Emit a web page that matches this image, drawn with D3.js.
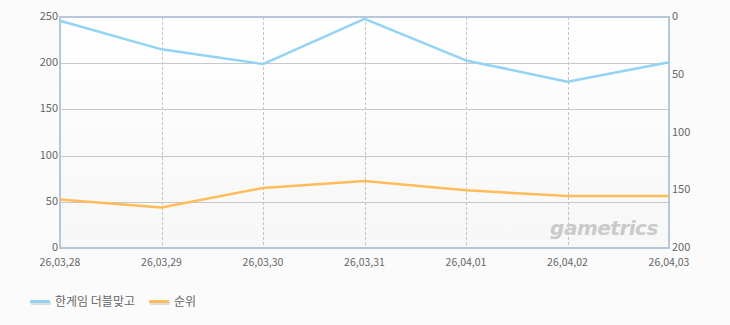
<!DOCTYPE html>
<html>
<head>
<meta charset="utf-8">
<script src="https://cdn.jsdelivr.net/npm/d3@7"></script>
<style>
  body { margin: 0; background: #fbfbfb; }
  text { font-family: "Noto Sans CJK KR", "DejaVu Sans", sans-serif; }
</style>
</head>
<body>
<div id="chart"></div>
<script>
let width = 730;
let height = 325;
let margin = { left: 60, right: 61, top: 17, bottom: 77 };

let dates = ["26,03,28", "26,03,29", "26,03,30", "26,03,31", "26,04,01", "26,04,02", "26,04,03"];
let gameValues = [246, 215, 199, 248, 203, 180, 201];
let rankValues = [158, 165, 148, 142, 150, 155, 155];
let leftTicks = [0, 50, 100, 150, 200, 250];
let rightTicks = [0, 50, 100, 150, 200];
let seriesNames = ["한게임 더블맞고", "순위"];
let colors = ["#93d3f3", "#ffbd5a"];

let svg = d3.select("#chart").append("svg")
    .attr("width", width).attr("height", height);

let x = d3.scalePoint().domain(dates).range([margin.left, width - margin.right]);
let yL = d3.scaleLinear().domain([0, 250]).range([height - margin.bottom, margin.top]);
let yR = d3.scaleLinear().domain([0, 200]).range([margin.top, height - margin.bottom]);

let defs = svg.append("defs");
let grad = defs.append("linearGradient").attr("id", "bg").attr("x1", 0).attr("y1", 0).attr("x2", 0).attr("y2", 1);
grad.append("stop").attr("offset", "0%").attr("stop-color", "#ffffff");
grad.append("stop").attr("offset", "100%").attr("stop-color", "#f7f7f7");

// plot background
svg.append("rect")
    .attr("x", margin.left).attr("y", margin.top)
    .attr("width", width - margin.left - margin.right)
    .attr("height", height - margin.top - margin.bottom)
    .attr("fill", "url(#bg)");

// horizontal grid
svg.append("g").selectAll("line").data(leftTicks.slice(1, -1)).join("line")
    .attr("x1", margin.left).attr("x2", width - margin.right)
    .attr("y1", d => Math.round(yL(d)) + 0.5).attr("y2", d => Math.round(yL(d)) + 0.5)
    .attr("stroke", "#c8c8c8");

// vertical dashed grid
svg.append("g").selectAll("line").data(dates.slice(1, -1)).join("line")
    .attr("x1", d => Math.round(x(d)) + 0.5).attr("x2", d => Math.round(x(d)) + 0.5)
    .attr("y1", margin.top).attr("y2", height - margin.bottom)
    .attr("stroke", "#c4c4c4").attr("stroke-dasharray", "3,2");

// watermark
svg.append("text")
    .attr("x", 604).attr("y", 235)
    .attr("text-anchor", "middle")
    .attr("font-size", 20).attr("font-weight", "bold").attr("font-style", "italic")
    .attr("fill", "#cacaca").attr("letter-spacing", -0.5)
    .style("font-family", "'DejaVu Sans', sans-serif")
    .text("gametrics");

// frame
svg.append("rect")
    .attr("x", margin.left).attr("y", margin.top)
    .attr("width", width - margin.left - margin.right)
    .attr("height", height - margin.top - margin.bottom)
    .attr("fill", "none").attr("stroke", "#b7c7d9").attr("stroke-width", 2);

// lines
let lineL = d3.line().x((d, i) => x(dates[i])).y(d => yL(d));
let lineR = d3.line().x((d, i) => x(dates[i])).y(d => yR(d));

svg.append("path").datum(gameValues)
    .attr("d", lineL).attr("fill", "none")
    .attr("stroke", colors[0]).attr("stroke-width", 2.5).attr("stroke-linejoin", "round");

svg.append("path").datum(rankValues)
    .attr("d", lineR).attr("fill", "none")
    .attr("stroke", colors[1]).attr("stroke-width", 2.5).attr("stroke-linejoin", "round");

// axes labels
svg.append("g").selectAll("text").data(leftTicks).join("text")
    .attr("x", margin.left - 2).attr("y", d => yL(d) + 3)
    .attr("text-anchor", "end").attr("font-size", 11).attr("fill", "#666")
    .text(d => d);

svg.append("g").selectAll("text").data(rightTicks).join("text")
    .attr("x", width - margin.right + 3).attr("y", d => yR(d) + 3)
    .attr("text-anchor", "start").attr("font-size", 11).attr("fill", "#666")
    .text(d => d);

svg.append("g").selectAll("text").data(dates).join("text")
    .attr("x", d => x(d)).attr("y", height - margin.bottom + 18)
    .attr("text-anchor", "middle").attr("font-size", 10.5).attr("fill", "#666")
    .text(d => d);

// legend
let legendX = [30, 149];
let legend = svg.append("g");
legend.selectAll(".lg-shadow").data(seriesNames).join("rect")
    .attr("class", "lg-shadow")
    .attr("x", (d, i) => legendX[i] + 1).attr("y", 302)
    .attr("width", 20).attr("height", 3).attr("fill", "#ddd");
legend.selectAll(".lg-line").data(seriesNames).join("rect")
    .attr("class", "lg-line")
    .attr("x", (d, i) => legendX[i]).attr("y", 300)
    .attr("width", 20).attr("height", 3).attr("fill", (d, i) => colors[i]);
legend.selectAll(".lg-text").data(seriesNames).join("text")
    .attr("class", "lg-text")
    .attr("x", (d, i) => legendX[i] + 25).attr("y", 306)
    .attr("font-size", 12).attr("fill", "#666")
    .text(d => d);
</script>
</body>
</html>
